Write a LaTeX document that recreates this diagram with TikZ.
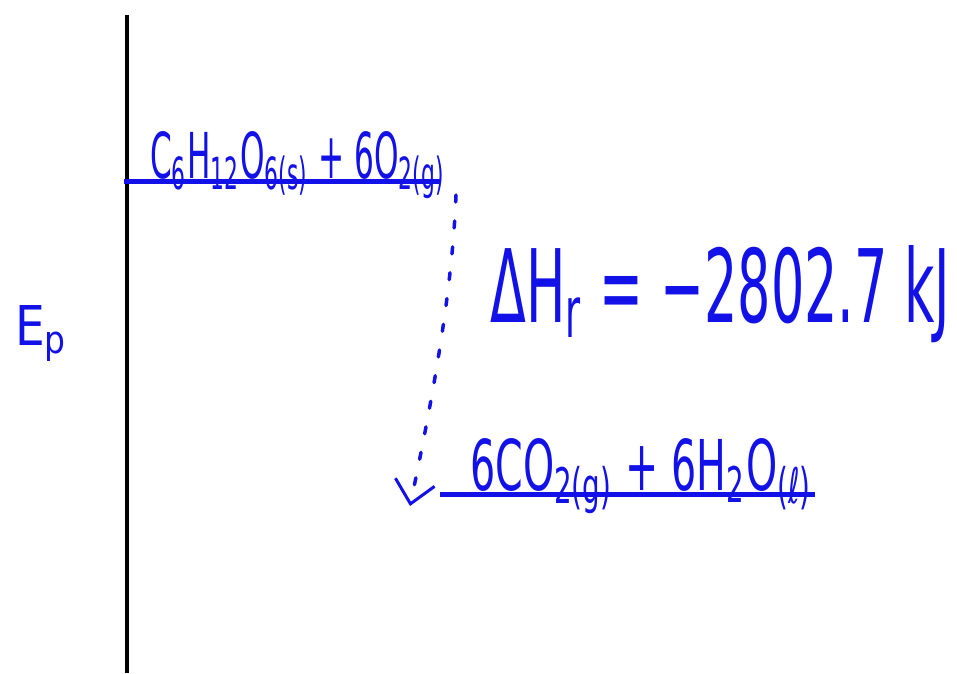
\documentclass[tikz,border=0pt]{standalone}
\usepackage{fontspec}
\setmainfont{DejaVu Sans}
\usetikzlibrary{arrows.meta}
\definecolor{handblue}{RGB}{18,18,232}
\newcommand{\fitbox}[3]{\resizebox{#1}{#2}{#3}}
\begin{document}
\begin{tikzpicture}[x=1pt,y=-1pt,
  handtext/.style={inner sep=0pt, text=handblue, anchor=base west},
  levelline/.style={draw=handblue, line width=5pt},
  axisline/.style={draw=black, line width=4pt},
  deltaarrow/.style={draw=handblue, line width=3.5pt, line cap=round,
    dash pattern=on 7pt off 19pt,
    -{Straight Barb[length=22pt,width=40pt,line width=3pt]}}]
\useasboundingbox (0,0) rectangle (957,673);
% axis
\coordinate (axtop) at (127,15);
\coordinate (axbot) at (127,673);
\draw[axisline] (axtop) -- (axbot);
% levels
\coordinate (r1) at (124,181);
\coordinate (r2) at (440,181);
\draw[levelline] (r1) -- (r2);
\coordinate (p1) at (440,494);
\coordinate (p2) at (815,494);
\draw[levelline] (p1) -- (p2);
% labels
\node[handtext] (react) at (150,178)
  {\fitbox{295pt}{47pt}{C\textsubscript{6}H\textsubscript{12}O\textsubscript{6(s)} + 6O\textsubscript{2(g)}}};
\node[handtext] (prod) at (470,490)
  {\fitbox{342pt}{52pt}{6CO\textsubscript{2(g)} + 6H\textsubscript{2}O\textsubscript{(ℓ)}}};
\node[handtext] (dh) at (490,322)
  {\fitbox{460pt}{77pt}{ΔH\textsubscript{r} = −2802.7 kJ}};
\node[handtext] (ep) at (15,345)
  {\fitbox{53pt}{40pt}{E\textsubscript{p}}};
% arrow
\coordinate (astart) at (456,195);
\coordinate (aend) at (410,506);
\draw[deltaarrow] (astart) .. controls (452,300) and (428,420) .. (aend);
\end{tikzpicture}
\end{document}
